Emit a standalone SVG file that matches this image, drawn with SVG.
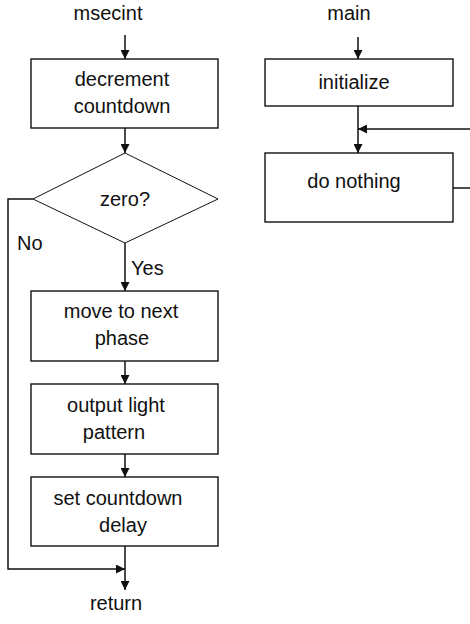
<svg xmlns="http://www.w3.org/2000/svg" width="470" height="624" viewBox="0 0 470 624">
  <style>
    .box { fill: #ffffff; stroke: #111111; stroke-width: 1.4; }
    .dia { fill: #ffffff; stroke: #111111; stroke-width: 1; }
    .lbl { font-family: "Liberation Sans", Arial, sans-serif; font-size: 20px; fill: #111111; }
    .mid { text-anchor: middle; }
    .wire { fill: none; stroke: #111111; stroke-width: 1.5; }
  </style>
  <defs>
    <marker id="arrow" viewBox="0 0 10 10" refX="10" refY="5" markerWidth="9" markerHeight="9" markerUnits="userSpaceOnUse" orient="auto">
      <path d="M0,0 L10,5 L0,10 Z" fill="#111111"/>
    </marker>
  </defs>
  <rect width="470" height="624" fill="#ffffff"/>

  <!-- interrupt routine: msecint -->
  <g id="msecint-entry">
    <text class="lbl mid" x="108" y="20">msecint</text>
  </g>
  <g id="decrement">
    <rect class="box" x="31" y="59" width="187" height="69"/>
    <text class="lbl mid" x="122" y="86">decrement</text>
    <text class="lbl mid" x="122" y="113">countdown</text>
  </g>
  <g id="zero-test">
    <polygon class="dia" points="125,153 218,199 125,243 33,199"/>
    <text class="lbl mid" x="125" y="206">zero?</text>
  </g>
  <g id="next-phase">
    <rect class="box" x="31" y="291" width="187" height="70"/>
    <text class="lbl mid" x="121" y="318">move to next</text>
    <text class="lbl mid" x="122" y="345">phase</text>
  </g>
  <g id="output-pattern">
    <rect class="box" x="31" y="384" width="187" height="70"/>
    <text class="lbl mid" x="116" y="412">output light</text>
    <text class="lbl mid" x="114" y="439">pattern</text>
  </g>
  <g id="set-delay">
    <rect class="box" x="31" y="477" width="187" height="69"/>
    <text class="lbl mid" x="118" y="505">set countdown</text>
    <text class="lbl mid" x="123" y="532">delay</text>
  </g>
  <g id="msecint-exit">
    <text class="lbl mid" x="116" y="610">return</text>
  </g>

  <!-- main program -->
  <g id="main-entry">
    <text class="lbl mid" x="349" y="20">main</text>
  </g>
  <g id="initialize">
    <rect class="box" x="265" y="59" width="188" height="47"/>
    <text class="lbl mid" x="354" y="89">initialize</text>
  </g>
  <g id="do-nothing">
    <rect class="box" x="265" y="153" width="188" height="69"/>
    <text class="lbl mid" x="354" y="188">do nothing</text>
  </g>

  <g id="connectors">
    <line class="wire" x1="125" y1="35" x2="125" y2="59" marker-end="url(#arrow)"/>
    <line class="wire" x1="125" y1="128" x2="125" y2="153" marker-end="url(#arrow)"/>
    <line class="wire" x1="125" y1="243" x2="125" y2="291" marker-end="url(#arrow)"/>
    <text class="lbl" x="131" y="275">Yes</text>
    <polyline class="wire" points="33,199 8,199 8,569 125,569" marker-end="url(#arrow)"/>
    <text class="lbl" x="17" y="250">No</text>
    <line class="wire" x1="125" y1="361" x2="125" y2="384" marker-end="url(#arrow)"/>
    <line class="wire" x1="125" y1="454" x2="125" y2="477" marker-end="url(#arrow)"/>
    <line class="wire" x1="125" y1="546" x2="125" y2="590" marker-end="url(#arrow)"/>

    <line class="wire" x1="358" y1="37" x2="358" y2="59" marker-end="url(#arrow)"/>
    <line class="wire" x1="358" y1="106" x2="358" y2="153" marker-end="url(#arrow)"/>
    <line class="wire" x1="453" y1="188" x2="470" y2="188"/>
    <line class="wire" x1="470" y1="129" x2="358" y2="129" marker-end="url(#arrow)"/>
  </g>
</svg>
